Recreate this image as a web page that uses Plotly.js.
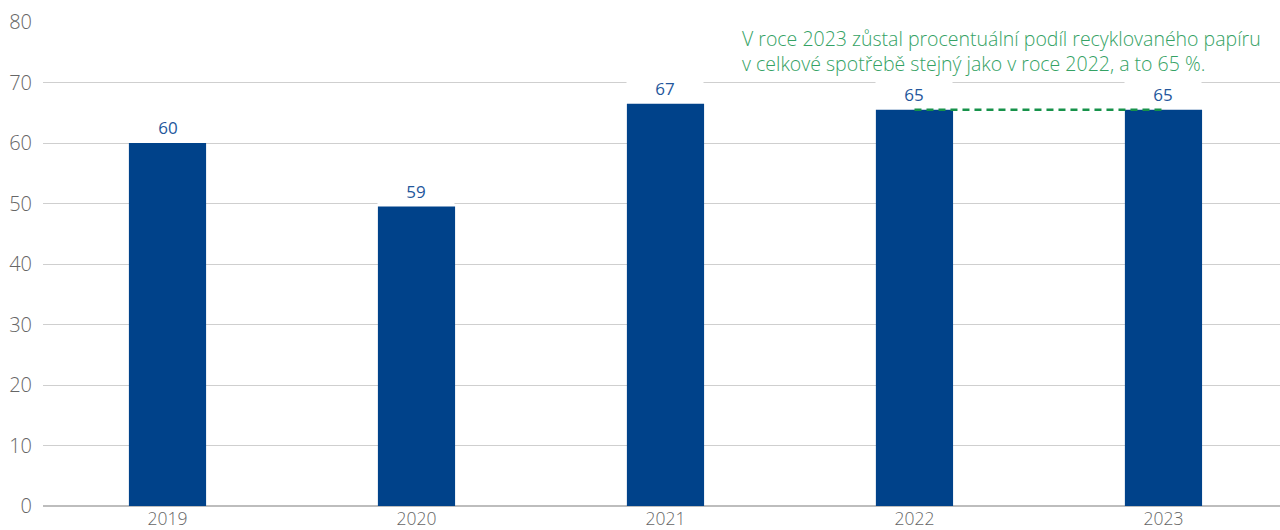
<!DOCTYPE html>
<html><head><meta charset="utf-8">
<script src="https://cdn.plot.ly/plotly-3.0.1.min.js"></script>
<style>html,body{margin:0;padding:0;background:#fff}#chart{width:1280px;height:530px}</style>
</head><body><div id="chart"></div>
<script>
const years = ['2019','2020','2021','2022','2023'];
const barValues = [60, 49.5, 66.5, 65.5, 65.5];
const barLabels = ['60','59','67','65','65'];
const noteText = 'V roce 2023 zůstal procentuální podíl recyklovaného papíru<br>v celkové spotřebě stejný jako v roce 2022, a to 65 %.';
const levelYears = ['2022','2023'];
const levelValues = [65.5, 65.5];

const font = '"Open Sans", "DejaVu Sans", sans-serif';
const traces = [
  {type:'bar', x:years, y:barValues, width:0.31, marker:{color:'#00428a'}, hoverinfo:'skip', showlegend:false},
  {type:'scatter', mode:'lines', x:levelYears, y:levelValues, line:{color:'#17924a', width:2.5, dash:'7px,5px'}, hoverinfo:'skip', showlegend:false}
];
const annotations = years.map((yr,i)=>({
  x: i, y: barValues[i], xref:'x', yref:'y', text: barLabels[i], showarrow:false,
  yanchor:'bottom', yshift:2, font:{family:font, size:17, weight:400, color:'#24579c'},
  bgcolor:'#ffffff', width:74
}));
annotations.push({
  xref:'paper', yref:'paper', x:(740-43)/1237, y:1-(23-22)/484, xanchor:'left', yanchor:'top',
  align:'left', showarrow:false, text: noteText,
  font:{family:font, size:19.5, weight:300, color:'#34a264'}, bgcolor:'#ffffff'
});
const layout = {
  width:1280, height:530,
  margin:{l:43, r:0, t:22, b:24},
  paper_bgcolor:'#fff', plot_bgcolor:'#fff',
  font:{family:font, size:18, color:'#666'},
  xaxis:{type:'category', range:[-0.5, 4.468], showgrid:false, zeroline:false, showline:false, ticks:'',
         tickfont:{family:font, size:17.5, weight:300, color:'#666'}, fixedrange:true},
  yaxis:{range:[0,80], dtick:10, showgrid:true, gridcolor:'#cfcfcf', gridwidth:1, zeroline:true,
         zerolinecolor:'#bdbdbd', zerolinewidth:2, showline:false, ticks:'', ticklabelstandoff:10,
         tickfont:{family:font, size:20, weight:300, color:'#666'}, fixedrange:true},
  annotations: annotations
};
Plotly.newPlot('chart', traces, layout, {displayModeBar:false, staticPlot:true});
</script></body></html>
